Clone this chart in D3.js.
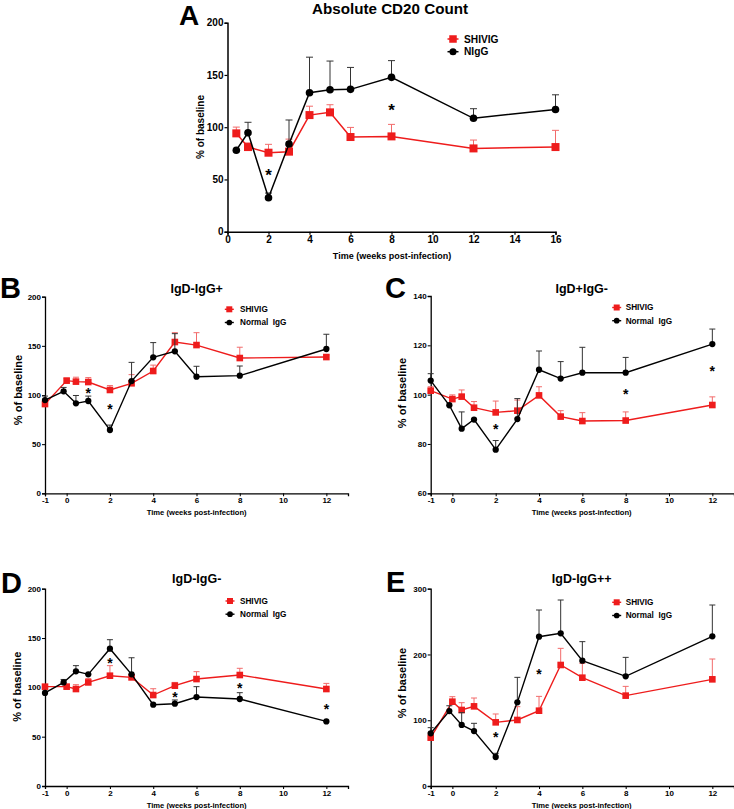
<!DOCTYPE html>
<html><head><meta charset="utf-8">
<script src="https://cdn.jsdelivr.net/npm/d3@7"></script>
<style>
body{margin:0;background:#fff}
svg{display:block}
text{font-family:Arial,"Liberation Sans",Helvetica,sans-serif;font-weight:bold;fill:#000}
</style>
</head><body>
<svg id="c" width="734" height="809"></svg>
<script>
// ---------------- DATA ----------------
const seriesNames = ["SHIVIG", "NIgG", "Normal  IgG"];

// Panel A: Absolute CD20 Count
const weeksA = [0.43, 1, 2, 3, 4, 5, 6, 8, 12, 16];
const shivigA = [94.1, 81, 75.6, 76.6, 111.6, 114.2, 90.6, 91.2, 79.7, 81];
const shivigASem = [6, 4, 8, 12, 8.5, 7.3, 9.2, 11.5, 8, 16];
const niggA = [78, 94.7, 32.5, 83.9, 133, 135.9, 136.2, 147.7, 108.5, 117];
const niggASem = [0, 10, 4.5, 23, 34, 27.4, 21, 16, 9.2, 14];
const starsA = [[2, 57], [8, 119.6]];

// Panels B-E share time points
const weeksRed = [-1, 0, 0.43, 1, 2, 3, 4, 5, 6, 8, 12];
const weeksBlack = [-1, -0.14, 0.43, 1, 2, 3, 4, 5, 6, 8, 12];

// Panel B: IgD-IgG+
const shivigB = [90.8, 114.6, 113.6, 113.2, 105.1, 111.9, 124.4, 153.9, 150.8, 137.6, 138.6];
const shivigBSem = [3, 2.5, 4.5, 4.5, 4.5, 8.8, 6, 9.5, 12.6, 11, 2];
const normalB = [94.9, 103.7, 91.5, 93.9, 64.4, 114.2, 138.3, 144.4, 118.6, 119.7, 146.8];
const normalBSem = [4, 4, 8, 5, 5, 19, 15, 18, 10.6, 9.8, 15];
const starsB = [[1, 105], [2, 88.8]];

// Panel C: IgD+IgG-
const shivigC = [101.6, 98.2, 99.2, 94.7, 92.8, 93.5, 99.7, 91.1, 89.3, 89.5, 95.8];
const shivigCSem = [1.6, 1.7, 2.7, 2.5, 4.6, 4.3, 3.5, 2.4, 3.4, 3.5, 3.3];
const normalC = [105.7, 95.7, 86.2, 89.9, 77.7, 90.1, 110.1, 106.5, 108.9, 108.9, 120.5];
const normalCSem = [2.8, 0, 6.8, 0, 3.7, 8.3, 7.6, 6.9, 10.3, 6.2, 6.1];
const starsC = [[2, 87], [8, 101.2], [12, 110.5]];

// Panel D: IgD-IgG-
const shivigD = [100.7, 100.7, 98.3, 105, 111.8, 110.1, 92.2, 101.7, 108.4, 112.5, 98.3];
const shivigDSem = [0, 2.3, 4.4, 4, 10.2, 3, 6.4, 3.3, 7.5, 6.8, 5.7];
const normalD = [94.3, 105, 116.2, 113.2, 139.2, 113.2, 82.4, 83.4, 90.2, 88.2, 65.5];
const normalDSem = [0, 3, 5.8, 0, 9.1, 16.8, 0, 3.8, 10.5, 6.4, 0];
const starsD = [[2, 127.7], [5, 93.2], [8, 101.7], [12, 80.4]];

// Panel E: IgD-IgG++
const shivigE = [73.5, 128.2, 115.6, 121.1, 96.8, 100.4, 114.5, 184, 164.7, 137.4, 162.2];
const shivigESem = [7.5, 7.6, 11.1, 12.7, 12.7, 20.2, 21.8, 25.3, 21.8, 14.1, 30.9];
const normalE = [80.1, 114, 92.8, 83.6, 44.1, 127.2, 227, 232.1, 190.6, 166.8, 227.6];
const normalESem = [8.6, 8, 18.7, 11.7, 5.6, 38, 40.6, 50.7, 28.9, 28.8, 47.6];
const starsE = [[2, 78.6], [4, 173.8]];

// Tick labels
const xTicksA = [0, 2, 4, 6, 8, 10, 12, 14, 16];
const yTicksA = [0, 50, 100, 150, 200];
const xTicksBE = [-1, 0, 2, 4, 6, 8, 10, 12];
const yTicks200 = [0, 50, 100, 150, 200];
const yTicksC = [60, 80, 100, 120, 140];
const yTicksE = [0, 100, 200, 300];

const titles = ["Absolute CD20 Count", "IgD-IgG+", "IgD+IgG-", "IgD-IgG-", "IgD-IgG++"];
const letters = ["A", "B", "C", "D", "E"];
const yLabel = "% of baseline";
const xLabel = "Time (weeks post-infection)";

const RED = "#ee1c1c", RED_ERR = "#f26b6b", BLACK = "#000", BLACK_ERR = "#333";

// ---------------- DRAW ----------------
const svg = d3.select("#c");

function drawPanel(p) {
  const g = svg.append("g");
  const x = d3.scaleLinear().domain(p.xDomain).range([p.x0, p.x1]);
  const y = d3.scaleLinear().domain(p.yDomain).range([p.y0, p.y1]);
  const fmt = d => String(d);

  const xa = g.append("g").attr("transform", `translate(0,${p.y0})`)
    .call(d3.axisBottom(x).tickValues(p.xTicks).tickSizeOuter(0).tickSize(3).tickPadding(1).tickFormat(fmt));
  const ya = g.append("g").attr("transform", `translate(${p.x0},0)`)
    .call(d3.axisLeft(y).tickValues(p.yTicks).tickSizeOuter(0).tickSize(3).tickPadding(1).tickFormat(fmt));
  [xa, ya].forEach(a => {
    a.attr("font-size", p.tickFs);
    a.select(".domain").attr("stroke", "#000").attr("stroke-width", p.axisW);
    a.selectAll(".tick line").attr("stroke", "#000").attr("stroke-width", p.axisW * 0.8);
  });

  // series
  p.series.forEach(s => {
    const pts = s.weeks.map((w, i) => ({ w, v: s.vals[i], e: s.sem[i] }));
    const eg = g.append("g").attr("stroke", s.errColor).attr("stroke-width", 1).attr("fill", "none");
    pts.filter(d => d.e > 0).forEach(d => {
      const cx = x(d.w), top = y(d.v + d.e), bot = y(d.v);
      eg.append("line").attr("x1", cx).attr("x2", cx).attr("y1", bot).attr("y2", top);
      eg.append("line").attr("x1", cx - p.capW / 2).attr("x2", cx + p.capW / 2).attr("y1", top).attr("y2", top);
    });
    g.append("path").datum(pts)
      .attr("fill", "none").attr("stroke", s.color).attr("stroke-width", p.lineW)
      .attr("d", d3.line().x(d => x(d.w)).y(d => y(d.v)));
    const mg = g.append("g").attr("fill", s.color);
    pts.forEach(d => drawMarker(mg, s.shape, x(d.w), y(d.v), p.markSz));
  });

  // stars
  p.stars.forEach(([w, v]) => {
    g.append("text").attr("x", x(w)).attr("y", y(v) + p.starFs * 0.55)
      .attr("text-anchor", "middle").attr("font-size", p.starFs).text("*");
  });

  // legend
  p.legend.forEach((it, i) => {
    const ly = p.legY + i * p.legDy;
    g.append("line").attr("x1", p.legX - p.legLine).attr("x2", p.legX + p.legLine)
      .attr("y1", ly).attr("y2", ly).attr("stroke", it.color).attr("stroke-width", p.lineW);
    drawMarker(g.append("g").attr("fill", it.color), it.shape, p.legX, ly, p.legMark);
    g.append("text").attr("x", p.legTx).attr("y", ly).attr("dy", "0.36em")
      .attr("font-size", p.legFs).style("white-space", "pre").text(it.name);
  });

  // title, letter, labels
  g.append("text").attr("x", p.titleX).attr("y", p.titleY).attr("text-anchor", "middle")
    .attr("font-size", p.titleFs).text(p.title);
  g.append("text").attr("x", p.letX).attr("y", p.letY).attr("font-size", p.letFs).text(p.letter);
  g.append("text").attr("transform", `translate(${p.yLabX},${p.yLabY}) rotate(-90)`)
    .attr("text-anchor", "middle").attr("dy", "0.36em").attr("font-size", p.yLabFs).text(yLabel);
  g.append("text").attr("x", p.xLabX).attr("y", p.xLabY).attr("dy", "0.36em")
    .attr("text-anchor", "middle").attr("font-size", p.xLabFs).text(xLabel);
}

function drawMarker(g, shape, cx, cy, sz) {
  if (shape === "square") {
    g.append("rect").attr("x", cx - sz / 2).attr("y", cy - sz / 2).attr("width", sz).attr("height", sz);
  } else {
    g.append("circle").attr("cx", cx).attr("cy", cy).attr("r", sz / 2 * 0.95);
  }
}

function legendItems(blackName) {
  return [
    { name: seriesNames[0], color: RED, shape: "square" },
    { name: blackName, color: BLACK, shape: "circle" }
  ];
}

const small = {
  tickFs: 8, axisW: 1.3, lineW: 1.4, capW: 6, markSz: 6.6, starFs: 14,
  legLine: 4.5, legMark: 6, legFs: 8.2, legDy: 13.2,
  titleFs: 12.5, letFs: 29, yLabFs: 11, xLabFs: 7.6,
  xDomain: [-1, 13], xTicks: xTicksBE
};

// Panel A
drawPanel({
  tickFs: 10, axisW: 1.5, lineW: 1.5, capW: 7, markSz: 8, starFs: 17,
  legLine: 5.5, legMark: 7.5, legFs: 10.2, legDy: 12.7,
  titleFs: 15.2, letFs: 28, yLabFs: 10, xLabFs: 9,
  xDomain: [0, 16], yDomain: [0, 200], xTicks: xTicksA, yTicks: yTicksA,
  x0: 227.5, x1: 555.5, y0: 231.7, y1: 22.7,
  series: [
    { weeks: weeksA, vals: shivigA, sem: shivigASem, color: RED, errColor: RED_ERR, shape: "square" },
    { weeks: weeksA, vals: niggA, sem: niggASem, color: BLACK, errColor: BLACK_ERR, shape: "circle" }
  ],
  stars: starsA,
  legend: legendItems(seriesNames[1]), legX: 453, legY: 39, legTx: 464,
  title: titles[0], titleX: 390, titleY: 14, letter: letters[0], letX: 179, letY: 25,
  yLabX: 200, yLabY: 127, xLabX: 392, xLabY: 256
});

// Panel B
drawPanel(Object.assign({}, small, {
  yDomain: [0, 200], yTicks: yTicks200,
  x0: 45, x1: 348, y0: 493.3, y1: 296.7,
  series: [
    { weeks: weeksRed, vals: shivigB, sem: shivigBSem, color: RED, errColor: RED_ERR, shape: "square" },
    { weeks: weeksBlack, vals: normalB, sem: normalBSem, color: BLACK, errColor: BLACK_ERR, shape: "circle" }
  ],
  stars: starsB,
  legend: legendItems(seriesNames[2]), legX: 229.3, legY: 309.3, legTx: 240,
  title: titles[1], titleX: 196.7, titleY: 292.7, letter: letters[1], letX: 0, letY: 298.3,
  yLabX: 18, yLabY: 390, xLabX: 196.7, xLabY: 512.7
}));

// Panel C
drawPanel(Object.assign({}, small, {
  yDomain: [60, 140], yTicks: yTicksC,
  x0: 430.7, x1: 734, y0: 493.3, y1: 296,
  series: [
    { weeks: weeksRed, vals: shivigC, sem: shivigCSem, color: RED, errColor: RED_ERR, shape: "square" },
    { weeks: weeksBlack, vals: normalC, sem: normalCSem, color: BLACK, errColor: BLACK_ERR, shape: "circle" }
  ],
  stars: starsC,
  legend: legendItems(seriesNames[2]), legX: 616.7, legY: 307.5, legTx: 625.7,
  title: titles[2], titleX: 581.7, titleY: 292.7, letter: letters[2], letX: 385, letY: 298.3,
  yLabX: 401.7, yLabY: 393, xLabX: 581.7, xLabY: 512.7
}));

// Panel D
drawPanel(Object.assign({}, small, {
  yDomain: [0, 200], yTicks: yTicks200,
  x0: 45, x1: 348, y0: 786, y1: 588.7,
  series: [
    { weeks: weeksRed, vals: shivigD, sem: shivigDSem, color: RED, errColor: RED_ERR, shape: "square" },
    { weeks: weeksBlack, vals: normalD, sem: normalDSem, color: BLACK, errColor: BLACK_ERR, shape: "circle" }
  ],
  stars: starsD,
  legend: legendItems(seriesNames[2]), legX: 230, legY: 601, legTx: 240,
  title: titles[3], titleX: 196.7, titleY: 583.3, letter: letters[3], letX: 1, letY: 593.3,
  yLabX: 16.7, yLabY: 686.7, xLabX: 196.7, xLabY: 805.3
}));

// Panel E
drawPanel(Object.assign({}, small, {
  yDomain: [0, 300], yTicks: yTicksE,
  x0: 430.7, x1: 734, y0: 786, y1: 588.7,
  series: [
    { weeks: weeksRed, vals: shivigE, sem: shivigESem, color: RED, errColor: RED_ERR, shape: "square" },
    { weeks: weeksBlack, vals: normalE, sem: normalESem, color: BLACK, errColor: BLACK_ERR, shape: "circle" }
  ],
  stars: starsE,
  legend: legendItems(seriesNames[2]), legX: 616.7, legY: 602.3, legTx: 625.7,
  title: titles[4], titleX: 581.7, titleY: 583.3, letter: letters[4], letX: 386, letY: 591.7,
  yLabX: 401.7, yLabY: 683, xLabX: 581.7, xLabY: 805
}));
</script>
</body></html>
